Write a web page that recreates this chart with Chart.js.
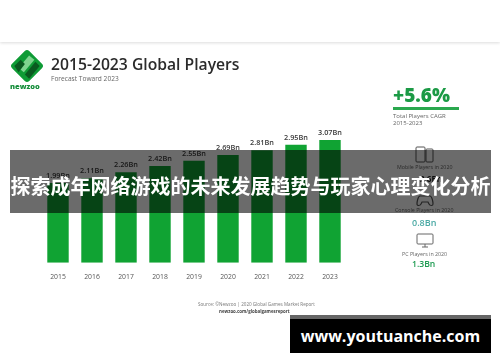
<!DOCTYPE html>
<html><head><meta charset="utf-8">
<script src="https://cdn.jsdelivr.net/npm/chart.js@4"></script>
<style>
html,body{margin:0;padding:0;background:#fff;width:500px;height:362px;overflow:hidden}
#stage{position:relative;width:500px;height:362px;background:#fff;overflow:hidden}
#c{position:absolute;left:0;top:0;filter:blur(.5px)}
.t{position:absolute;white-space:nowrap;font-family:"Open Sans",sans-serif;filter:blur(.35px)}
#shadow{position:absolute;left:0;top:0;width:500px;height:42px;background:#fff;box-shadow:0 1px 3px rgba(0,0,0,.14)}
#band{position:absolute;left:10px;top:150px;width:481px;height:63px;background:rgba(0,0,0,.58)}
#bandT{position:absolute;left:10px;top:150px;width:481px;height:63px;text-align:center;color:#fff;font:700 20px/72px "Noto Sans CJK SC",sans-serif;white-space:nowrap}
#urlG{position:absolute;left:290px;top:315px;width:201px;height:4px;background:#666}
#url{position:absolute;left:290px;top:319px;width:201px;height:34px;background:#000;color:#fff;text-align:center;font:700 16px/34px "Open Sans",sans-serif}
svg{position:absolute;filter:blur(.35px)}
</style></head><body>
<div id="stage">
<div id="shadow"></div>
<canvas id="c" width="500" height="362"></canvas>
<svg style="left:8px;top:47px" width="38" height="38" viewBox="0 0 36 36">
<rect x="6.5" y="6.5" width="23" height="23" rx="3" transform="rotate(45 18 18)" fill="#0e9b35"/>
<path d="M10 20 L20 8 L25 12 L15 24Z" fill="#7fd48f"/><path d="M16 26 L26 14 L30 18 L20 30Z" fill="#0a5a20"/><path d="M6 18 L12 12 L16 16 L10 24Z" fill="#0a5a20"/>
</svg>
<div class="t" style="left:10px;top:81px;font-size:7.5px;font-weight:800;color:#178f3c">newzoo</div>
<div class="t" style="left:51px;top:53px;font-size:15.7px;font-weight:600;color:#2b2b2b">2015-2023 Global Players</div>
<div class="t" style="left:51px;top:74px;font-size:6.6px;color:#666">Forecast Toward 2023</div>

<div class="t" style="left:393px;top:82px;font-size:19px;font-weight:800;color:#1b9a45">+5.6%</div>
<div style="position:absolute;left:393px;top:107px;width:66px;height:2.5px;background:#2aa84e"></div>
<div class="t" style="left:393px;top:113px;font-size:6px;line-height:7px;color:#666">Total Players CAGR<br>2015-2023</div>

<svg style="left:415px;top:146px" width="20" height="18" viewBox="0 0 20 18" fill="none" stroke="#555" stroke-width="1"><rect x="1" y="1" width="9" height="15" rx="1"/><rect x="11" y="3" width="7" height="13" rx="1"/></svg>
<div class="t" style="left:397px;top:163px;font-size:5.3px;color:#666">Mobile Players in 2020</div>
<div class="t" style="left:420px;top:173px;font-size:8px;font-weight:700;color:#222">2.6Bn</div>
<svg style="left:416px;top:194px" width="18" height="13" viewBox="0 0 18 13" fill="none" stroke="#555" stroke-width="1.2"><path d="M4 2h10c2 0 3 6 3 8s-3 2-4 0l-1-2H6l-1 2c-1 2-4 2-4 0s1-8 3-8z"/></svg>
<div class="t" style="left:395px;top:206px;font-size:5.3px;color:#666">Console Players in 2020</div>
<div class="t" style="left:412px;top:216px;font-size:9px;font-weight:600;color:#4aa9a4">0.8Bn</div>
<svg style="left:416px;top:233px" width="18" height="15" viewBox="0 0 18 15" fill="none" stroke="#666" stroke-width="1"><rect x="1" y="1" width="16" height="10" rx="1"/><path d="M6 14h6M9 11v3"/></svg>
<div class="t" style="left:402px;top:250px;font-size:5.3px;color:#666">PC Players in 2020</div>
<div class="t" style="left:412px;top:258px;font-size:8.6px;font-weight:600;color:#1c9a50">1.3Bn</div>

<div class="t" style="left:198px;top:301px;font-size:4.6px;color:#777">Source: ©Newzoo | 2020 Global Games Market Report</div>
<div class="t" style="left:219px;top:308px;font-size:4.4px;font-weight:700;color:#444">newzoo.com/globalgamesreport</div>

<div id="band"></div>
<div id="bandT">探索成年网络游戏的未来发展趋势与玩家心理变化分析</div>
<div id="urlG"></div>
<div id="url">www.youtuanche.com</div>
</div>
<script>
const years = ["2015","2016","2017","2018","2019","2020","2021","2022","2023"];
const players = [1.99,2.11,2.26,2.42,2.55,2.69,2.81,2.95,3.07];
const playerLabels = ["1.99Bn","2.11Bn","2.26Bn","2.42Bn","2.55Bn","2.69Bn","2.81Bn","2.95Bn","3.07Bn"];

const barLabels = {
  id:'barLabels',
  afterDatasetsDraw(chart){
    const {ctx} = chart;
    const meta = chart.getDatasetMeta(0);
    ctx.save();
    ctx.font = '600 7.3px "Open Sans", sans-serif';
    ctx.fillStyle = '#3a3a3a';
    ctx.textAlign = 'center';
    ctx.textBaseline = 'alphabetic';
    meta.data.forEach((b,i)=>ctx.fillText(playerLabels[i], b.x, b.y-5));
    ctx.restore();
  }
};
Chart.defaults.animation = false;
new Chart(document.getElementById('c'),{
  type:'bar',
  data:{labels:years,datasets:[{data:players,backgroundColor:'#10a333',barPercentage:.63,categoryPercentage:1}]},
  options:{
    responsive:false,animation:false,
    layout:{padding:{left:41,right:153,top:122.7,bottom:79.3}},
    plugins:{legend:{display:false},tooltip:{enabled:false}},
    scales:{
      y:{display:false,min:0,max:3.5},
      x:{grid:{display:false},border:{display:false},
         afterFit(s){s.height=20},
         ticks:{color:'#555',font:{size:6.8,family:'"Open Sans", sans-serif'},padding:2,maxRotation:0}}
    }
  },
  plugins:[barLabels]
});
</script>
</body></html>
